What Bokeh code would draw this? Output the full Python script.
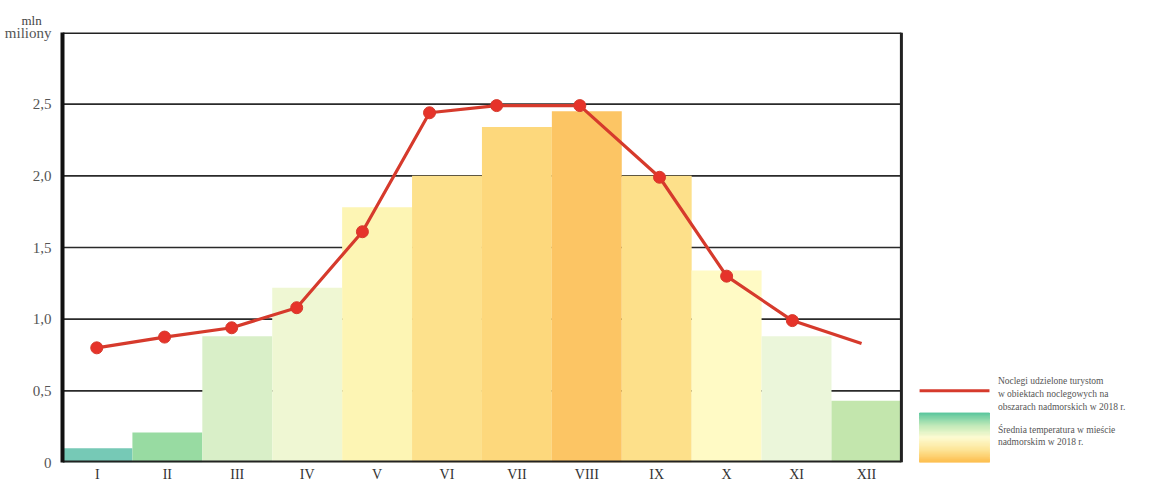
from bokeh.plotting import figure
from bokeh.models import Range1d, FixedTicker
from bokeh.core.properties import value
from bokeh.embed import file_html
from bokeh.resources import INLINE

# ---- data ----
months = ["I", "II", "III", "IV", "V", "VI", "VII", "VIII", "IX", "X", "XI", "XII"]
temperature_bar = [0.10, 0.21, 0.88, 1.22, 1.78, 2.00, 2.34, 2.45, 2.00, 1.34, 0.88, 0.43]
bar_colors = ["#76c9b6", "#98dba2", "#d9efc8", "#eff7d3", "#fdf5b4", "#fde18c",
              "#fdd87c", "#fcc564", "#fde08a", "#fffac5", "#ebf6da", "#c3e6ad"]
nights_pos = [0.49, 1.46, 2.42, 3.35, 4.29, 5.25, 6.21, 7.40, 8.54, 9.50, 10.44, 11.43]
nights = [0.80, 0.875, 0.94, 1.08, 1.61, 2.44, 2.49, 2.49, 1.99, 1.30, 0.99, 0.83]
y_ticks = [0, 0.5, 1.0, 1.5, 2.0, 2.5, 3.0]
y_tick_labels = ["0", "0,5", "1,0", "1,5", "2,0", "2,5", "miliony"]
unit_top = "mln"
legend_line = ["Noclegi udzielone turystom", "w obiektach noclegowych na",
               "obszarach nadmorskich w 2018 r."]
legend_grad = ["Średnia temperatura w mieście", "nadmorskim w 2018 r."]
grad_stops = ["#5cc79d", "#bfe9b8", "#fdfbd2", "#fde69a", "#fdc052"]

FONT = "Liberation Serif"
n = len(months)
H = 484

p = figure(width=1133, height=H, output_backend="svg", toolbar_location=None,
           x_range=Range1d(0, 15.32), y_range=Range1d(0, 3.0),
           min_border_left=62, min_border_top=32, min_border_right=0, min_border_bottom=0)
p.outline_line_color = None
p.xgrid.visible = False
p.ygrid.visible = False
p.background_fill_color = "white"

# unit label on top
p.title.text = unit_top
p.title.align = "left"
p.title.offset = -41
p.title.standoff = 9
p.title.text_font = FONT
p.title.text_font_size = "13px"
p.title.text_font_style = "normal"
p.title.text_color = "#444444"

# grid lines (behind bars)
gy = [t for t in y_ticks if 0 < t < 3.0]
p.segment(x0=[0] * len(gy), x1=[n] * len(gy), y0=gy, y1=gy, line_color="#2a2a2a", line_width=1.6)

# bars
centers = [i + 0.5 for i in range(n)]
p.vbar(x=centers, top=temperature_bar, width=1.0, bottom=0, fill_color=bar_colors, line_color=None)

# frame lines
p.segment(x0=[0], x1=[n], y0=[3.0], y1=[3.0], line_color="#222", line_width=3)
p.segment(x0=[n], x1=[n], y0=[0], y1=[3.0], line_color="#222", line_width=3)
p.segment(x0=[0], x1=[n], y0=[0], y1=[0], line_color="#222", line_width=4)

# line series
p.line(nights_pos, nights, line_color="#d63a2c", line_width=3.2)
p.scatter(nights_pos[:-1], nights[:-1], size=12, fill_color="#e6332a", line_color="#d63a2c")

# axes
p.xaxis.ticker = FixedTicker(ticks=centers)
p.xaxis.major_label_overrides = {c: m for c, m in zip(centers, months)}
p.xaxis.axis_line_color = None
p.xaxis.major_tick_line_color = None
p.xaxis.minor_tick_line_color = None
p.xaxis.major_tick_out = 0
p.xaxis.major_label_standoff = 4
p.xaxis.major_label_text_font = FONT
p.xaxis.major_label_text_font_size = "14px"
p.xaxis.major_label_text_color = "#333333"

p.yaxis.ticker = FixedTicker(ticks=y_ticks)
p.yaxis.major_label_overrides = {t: l for t, l in zip(y_ticks, y_tick_labels)}
p.yaxis.axis_line_color = "#111111"
p.yaxis.axis_line_width = 4
p.yaxis.major_tick_line_color = None
p.yaxis.minor_tick_line_color = None
p.yaxis.major_tick_out = 0
p.yaxis.major_label_standoff = 11
p.yaxis.major_label_text_font = FONT
p.yaxis.major_label_text_font_size = "15px"
p.yaxis.major_label_text_color = "#555555"

# legend: line sample
p.line([12.26, 13.26], [0.50, 0.50], line_color="#d63a2c", line_width=3)
ly = [0.57, 0.48, 0.39]
p.text(x=[13.38] * 3, y=ly, text=legend_line, text_font=value(FONT), text_font_size="9.5px",
       text_color="#555555", text_baseline="middle")

# legend: gradient box
def hex2rgb(h):
    h = h.lstrip("#")
    return [int(h[i:i + 2], 16) for i in (0, 2, 4)]

steps = 40
box_top, box_bot = 0.345, 0.0
cols, tops, bots = [], [], []
for k in range(steps):
    t = k / (steps - 1)
    seg = t * (len(grad_stops) - 1)
    i0 = min(int(seg), len(grad_stops) - 2)
    f = seg - i0
    a, b = hex2rgb(grad_stops[i0]), hex2rgb(grad_stops[i0 + 1])
    c = [round(a[j] + (b[j] - a[j]) * f) for j in range(3)]
    cols.append("#%02x%02x%02x" % tuple(c))
    h = (box_top - box_bot) / steps
    tops.append(box_top - k * h)
    bots.append(box_top - (k + 1) * h)
p.quad(left=[12.26] * steps, right=[13.26] * steps, top=tops, bottom=bots,
       fill_color=cols, line_color=cols, line_width=1)
p.text(x=[13.38] * 2, y=[0.23, 0.14], text=legend_grad, text_font=value(FONT), text_font_size="9.5px",
       text_color="#555555", text_baseline="middle")

open("out.html", "w").write(file_html(p, INLINE))
